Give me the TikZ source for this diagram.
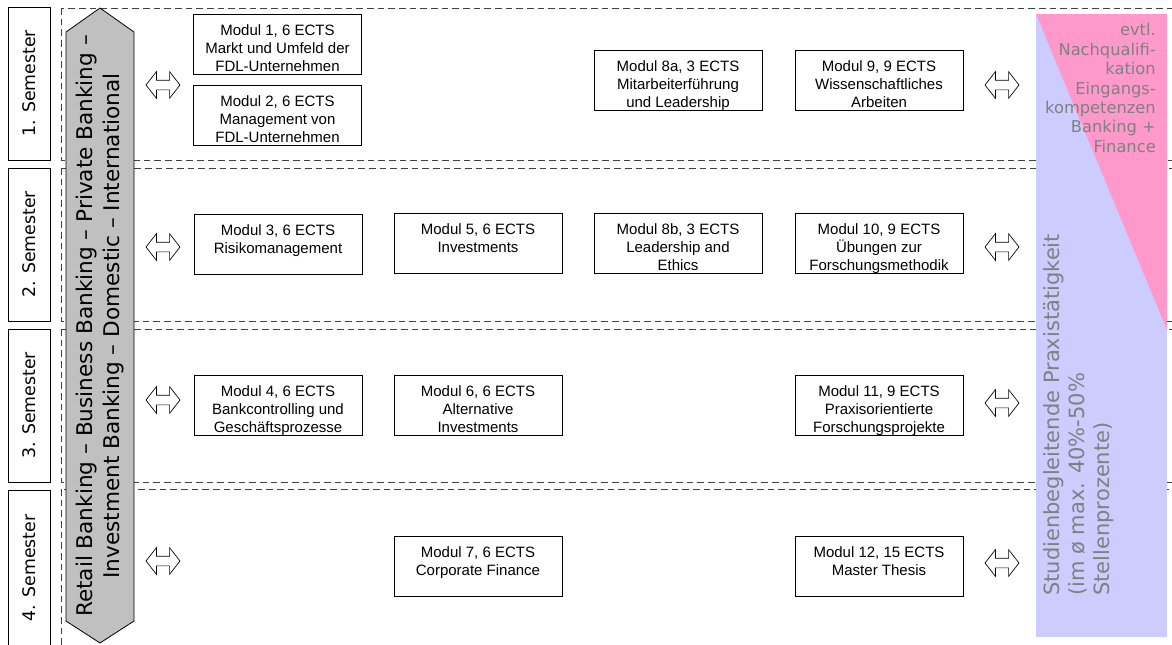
\documentclass[tikz,border=0pt]{standalone}
\usepackage{fontspec}
\setmainfont{Liberation Sans}
\newfontfamily\dejavu{DejaVu Sans}
\usepackage{tikz}
\usetikzlibrary{shapes.arrows}
\definecolor{BandGray}{RGB}{192,192,192}
\definecolor{PanelPink}{RGB}{255,153,204}
\definecolor{PanelLilac}{RGB}{204,204,255}
\definecolor{PanelText}{RGB}{128,128,128}
\definecolor{RowDash}{RGB}{64,64,64}
\newcommand{\modul}[1]{\parbox[c][45pt][t]{126pt}{\centering\rule{0pt}{16pt}#1}}

\begin{document}
\begin{tikzpicture}[
            x=0.75pt, y=-0.75pt,
            modbox/.style={draw, line width=0.6pt, inner sep=0pt, font=\fontsize{11.25}{13.5}\selectfont},
            semlabel/.style={draw, line width=0.6pt, rotate=90, inner sep=0pt, minimum width=114.75pt, minimum height=31.5pt, font=\dejavu\fontsize{13}{15.6}\selectfont},
            rowbox/.style={draw=RowDash, line width=0.7pt, dash pattern=on 5pt off 3pt},
            dblarrow/.style={double arrow, draw, fill=white, line width=0.5pt, inner xsep=0pt, inner ysep=3.375pt, minimum height=25.5pt, double arrow head extend=6.375pt, double arrow tip angle=104},
            bandtext/.style={rotate=90, align=center, inner sep=0pt, font=\dejavu\fontsize{16.2}{20.25}\selectfont},
            paneltext/.style={inner sep=0pt, text=PanelText, font=\dejavu\fontsize{12.2}{14.6}\selectfont}
        ]
        \clip (0,0) rectangle (1172,644);

        % Semester rows
        \draw[rowbox] (61,8) rectangle (1180,160);
        \draw[rowbox] (61,168) rectangle (1180,321);
        \draw[rowbox] (61,329) rectangle (1180,482);
        \draw[rowbox] (61,489) rectangle (1180,660);

        % Semester labels
        \node[semlabel] (sem1) at (29,83.5) {1. Semester};
        \node[semlabel] (sem2) at (29,244.5) {2. Semester};
        \node[semlabel] (sem3) at (29,405.5) {3. Semester};
        \node[semlabel, minimum width=117pt] (sem4) at (29,568) {4. Semester};

        % Specialisation band
        \draw[fill=BandGray, line width=0.6pt] (66,32) -- (100,8) -- (134,32) -- (134,621) -- (100,643) -- (66,621) -- cycle;
        \node[bandtext] (band) at (100,326) {Retail Banking – Business Banking – Private Banking –\\Investment Banking – Domestic – International};

        % Modules, 1. Semester
        \node[modbox] (m1) at (277.5,44) {\modul{Modul 1, 6 ECTS\\Markt und Umfeld der\\FDL-Unternehmen}};
        \node[modbox] (m2) at (277.5,115.5) {\modul{Modul 2, 6 ECTS\\Management von\\FDL-Unternehmen}};
        \node[modbox] (m8a) at (678,80) {\modul{Modul 8a, 3 ECTS\\Mitarbeiterführung\\und Leadership}};
        \node[modbox] (m9) at (879,80) {\modul{Modul 9, 9 ECTS\\Wissenschaftliches\\Arbeiten}};

        % Modules, 2. Semester
        \node[modbox] (m3) at (278,244) {\modul{Modul 3, 6 ECTS\\Risikomanagement}};
        \node[modbox] (m5) at (478,243.5) {\modul{Modul 5, 6 ECTS\\Investments}};
        \node[modbox] (m8b) at (678,243.5) {\modul{Modul 8b, 3 ECTS\\Leadership and\\Ethics}};
        \node[modbox] (m10) at (879,243.5) {\modul{Modul 10, 9 ECTS\\Übungen zur\\Forschungsmethodik}};

        % Modules, 3. Semester
        \node[modbox] (m4) at (278,405.5) {\modul{Modul 4, 6 ECTS\\Bankcontrolling und\\Geschäftsprozesse}};
        \node[modbox] (m6) at (478,405.5) {\modul{Modul 6, 6 ECTS\\Alternative\\Investments}};
        \node[modbox] (m11) at (879,405.5) {\modul{Modul 11, 9 ECTS\\Praxisorientierte\\Forschungsprojekte}};

        % Modules, 4. Semester
        \node[modbox] (m7) at (478,566.5) {\modul{Modul 7, 6 ECTS\\Corporate Finance}};
        \node[modbox] (m12) at (879,566.5) {\modul{Modul 12, 15 ECTS\\Master Thesis}};

        % Exchange arrows
        \node[dblarrow] (la1) at (163,85) {};
        \node[dblarrow] (la2) at (163,247) {};
        \node[dblarrow] (la3) at (163,400) {};
        \node[dblarrow] (la4) at (163,561) {};
        \node[dblarrow] (ra1) at (1002,85) {};
        \node[dblarrow] (ra2) at (1002,247) {};
        \node[dblarrow] (ra3) at (1002,403) {};
        \node[dblarrow] (ra4) at (1002,563) {};

        % Practice panel
        \fill[PanelLilac] (1036,14) rectangle (1167,637);
        \fill[PanelPink] (1036,14) -- (1167,14) -- (1167,330) -- cycle;
        \node[paneltext, align=right, anchor=north east] (quali) at (1156,23) {evtl.\\Nachqualifi-\\kation\\Eingangs-\\kompetenzen\\Banking +\\Finance};
        \node[paneltext, rotate=90, align=left, anchor=north west, font=\dejavu\fontsize{15.75}{18.75}\selectfont] (praxis) at (1043,596) {Studienbegleitende Praxistätigkeit\\(im ø max. 40\%-50\%\\Stellenprozente)};

        \end{tikzpicture}
\end{document}
